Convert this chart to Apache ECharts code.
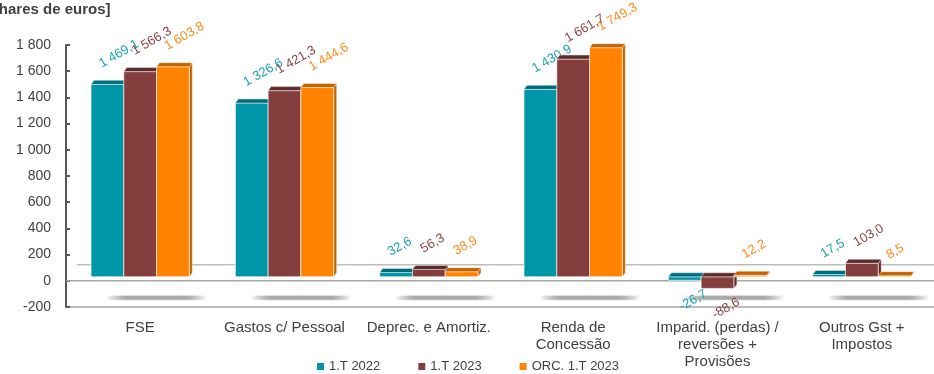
<!DOCTYPE html>
<html>
<head>
<meta charset="utf-8">
<script src="https://cdn.jsdelivr.net/npm/echarts@6/dist/echarts.min.js"></script>
<style>
  html, body { margin: 0; padding: 0; background: #ffffff; }
  #chart { width: 934px; height: 374px; }
</style>
</head>
<body>
<div id="chart"></div>
<script>
// Categories and values (milhares de euros)
const categories = [
  'FSE',
  'Gastos c/ Pessoal',
  'Deprec. e Amortiz.',
  'Renda de\nConcessão',
  'Imparid. (perdas) /\nreversões +\nProvisões',
  'Outros Gst +\nImpostos'
];
const seriesNames = ['1.T 2022', '1.T 2023', 'ORC. 1.T 2023'];
const t2022 = [1469.1, 1326.6, 32.6, 1430.9, -26.7, 17.5];
const t2023 = [1566.3, 1421.3, 56.3, 1661.7, -88.6, 103.0];
const orc2023 = [1603.8, 1444.6, 38.9, 1749.3, 12.2, 8.5];
const yMin = -200;
const yMax = 1800;
const yStep = 200;

// Colours per series: front face, top/side face, label text
const faceColors = ['#0096aa', '#853e3e', '#ff8300'];
const topColors = ['#006d7c', '#5e2a2a', '#c46400'];
const labelColors = ['#1ba0b3', '#8a4444', '#ff8a1c'];

const FONT = '"Liberation Sans", Arial, sans-serif';
const TEXT = '#404040';

// "1 469,1" style formatting
function fmt(v, d) {
  const parts = Math.abs(v).toFixed(d).split('.');
  const intPart = parts[0].replace(/\B(?=(\d{3})+(?!\d))/g, ' ');
  return (v < 0 ? '-' : '') + intPart + (d ? ',' + parts[1] : '');
}

const DX = 3, DY = 4, LIFT = 4;

function barRenderer(k) {
  return function (params, api) {
    const i = api.value(0);
    const v = api.value(1);
    const band = api.size([1, 0])[0];
    const w = band * 0.227;
    const p0 = api.coord([i, 0]);
    const p1 = api.coord([i, v]);
    const x0 = p0[0] + (k - 1.5) * w;
    const x1 = x0 + w;
    const cx = x0 + w / 2;
    const yb = p0[1] - LIFT;
    const yv = p1[1] - LIFT;
    const yTop = Math.min(yb, yv);
    const yBot = Math.max(yb, yv);
    const h = Math.max(yBot - yTop, 0.8);
    const edge = 'rgba(255,255,255,0.65)';
    const children = [
      {
        type: 'polygon',
        shape: { points: [[x1, yTop], [x1 + DX, yTop - DY], [x1 + DX, yTop + h - DY], [x1, yTop + h]] },
        style: { fill: topColors[k], stroke: edge, lineWidth: 0.6 }
      },
      {
        type: 'rect',
        shape: { x: x0, y: yTop, width: w, height: h },
        style: { fill: faceColors[k], stroke: edge, lineWidth: 1 }
      },
      {
        type: 'polygon',
        shape: { points: [[x0, yTop], [x0 + DX, yTop - DY], [x1 + DX, yTop - DY], [x1, yTop]] },
        style: { fill: topColors[k], stroke: edge, lineWidth: 0.6 }
      }
    ];
    const label = v >= 0
      ? { x: cx - 4, y: yTop - DY - 10, align: 'left', verticalAlign: 'bottom' }
      : { x: cx + 18, y: yBot + 7, align: 'right', verticalAlign: 'top' };
    children.push({
      type: 'text',
      x: label.x,
      y: label.y,
      rotation: Math.PI / 6,
      style: {
        text: fmt(v, 1),
        fill: labelColors[k],
        font: '13px ' + FONT,
        align: label.align,
        verticalAlign: label.verticalAlign
      }
    });
    return { type: 'group', children: children };
  };
}

// Floor of the 3D plot: back edge, zero line and the soft shadow strips
function floorRenderer(params, api) {
  const i = api.value(0);
  const c = api.coord([i, 0]);
  const cs = params.coordSys;
  const children = [{
    type: 'rect',
    shape: { x: c[0] - 34, y: c[1] + 15, width: 101, height: 4 },
    style: {
      fill: {
        type: 'linear', x: 0, y: 0, x2: 1, y2: 0,
        colorStops: [
          { offset: 0, color: 'rgba(170,170,170,0)' },
          { offset: 0.2, color: 'rgba(170,170,170,1)' },
          { offset: 0.8, color: 'rgba(170,170,170,1)' },
          { offset: 1, color: 'rgba(170,170,170,0)' }
        ]
      },
      shadowBlur: 2,
      shadowColor: 'rgba(170,170,170,0.6)'
    }
  }];
  if (i === 0) {
    children.push({
      type: 'line',
      shape: { x1: cs.x + 9, y1: c[1] - 16, x2: cs.x + cs.width, y2: c[1] - 16 },
      style: { stroke: '#bdbdbd', lineWidth: 1.6 }
    });
    children.push({
      type: 'line',
      shape: { x1: cs.x - 2, y1: c[1], x2: cs.x + cs.width, y2: c[1] },
      style: { stroke: '#a6a6a6', lineWidth: 1.6 }
    });
  }
  return { type: 'group', children: children };
}

const seriesValues = [t2022, t2023, orc2023];

const chart = echarts.init(document.getElementById('chart'), null, { renderer: 'canvas' });

chart.setOption({
  animation: false,
  backgroundColor: '#ffffff',
  textStyle: { fontFamily: FONT },
  graphic: [{
    type: 'text',
    x: -27,
    y: 2,
    style: {
      text: '[Milhares de euros]',
      font: 'bold 15px ' + FONT,
      fill: TEXT,
      verticalAlign: 'top'
    }
  }],
  grid: { left: 68, right: -8, top: 45, bottom: 67 },
  legend: {
    data: seriesNames,
    left: 312,
    top: 355,
    icon: 'rect',
    itemWidth: 7,
    itemHeight: 7,
    itemGap: 38,
    textStyle: { color: TEXT, fontSize: 13, fontFamily: FONT }
  },
  xAxis: {
    type: 'category',
    data: categories,
    axisLine: { onZero: false, lineStyle: { color: '#a6a6a6', width: 1.6 } },
    axisTick: { show: false },
    axisLabel: {
      interval: 0,
      color: TEXT,
      fontSize: 15,
      lineHeight: 17,
      margin: 12,
      fontFamily: FONT
    },
    splitLine: { show: false }
  },
  yAxis: {
    type: 'value',
    min: yMin,
    max: yMax,
    interval: yStep,
    offset: 2,
    axisLine: { show: true, lineStyle: { color: '#595959', width: 2 } },
    axisTick: { show: true, inside: true, length: 4, lineStyle: { color: '#595959', width: 2 } },
    axisLabel: {
      color: TEXT,
      fontSize: 14,
      margin: 15,
      fontFamily: FONT,
      formatter: function (v) { return fmt(v, 0); }
    },
    splitLine: { show: false }
  },
  series: [
    {
      type: 'custom',
      name: 'floor',
      silent: true,
      z: 1,
      renderItem: floorRenderer,
      encode: { x: 0, y: 1 },
      data: categories.map(function (_, i) { return [i, 0]; })
    }
  ].concat(seriesNames.map(function (name, k) {
    return {
      type: 'custom',
      name: name,
      z: 2 + k,
      silent: true,
      itemStyle: { color: faceColors[k] },
      renderItem: barRenderer(k),
      encode: { x: 0, y: 1 },
      data: seriesValues[k].map(function (v, i) { return [i, v]; })
    };
  }))
});
</script>
</body>
</html>
